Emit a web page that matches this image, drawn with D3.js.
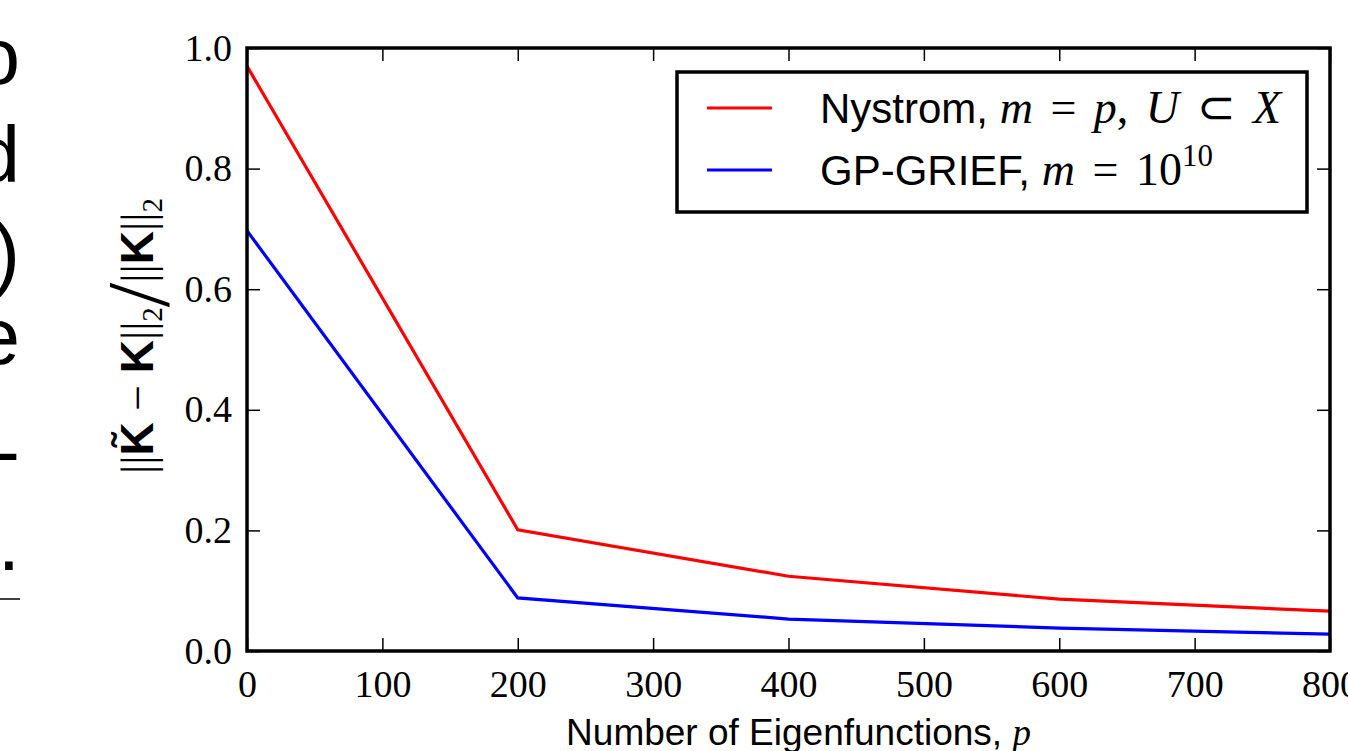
<!DOCTYPE html>
<meta charset="utf-8">
<title>Kernel approximation error</title>
<style>
  body { margin: 0; background: #fff; }
  .tick text { font-family: "Liberation Serif", serif; font-size: 38px; fill: #000; }
  .tick line { stroke: #000; stroke-width: 1.5px; }
  .domain { display: none; }
  .sans { font-family: "Liberation Sans", Arial, sans-serif; }
  .math { font-family: "Liberation Serif", serif; font-style: italic; }
  .rm { font-family: "Liberation Serif", serif; font-style: normal; }
</style>
<svg width="1348" height="751"></svg>
<script src="https://d3js.org/d3.v7.min.js"></script>
<script>
  // values
  var eigenfunctions = [0, 200, 400, 600, 800];
  var nystrom = [0.970, 0.201, 0.124, 0.086, 0.066];
  var gpgrief = [0.697, 0.088, 0.053, 0.038, 0.028];
  var xTicks = [0, 100, 200, 300, 400, 500, 600, 700, 800];
  var yTicks = [0.0, 0.2, 0.4, 0.6, 0.8, 1.0];

  var svg = d3.select("svg"),
    pl = 247, pr = 1330, pt = 48, pb = 651;

  // clipped page text on the left edge
  var side = [["o", 84], ["d", 182], [")", 280], ["e", 364], ["-", 478], [".", 570]];
  svg.selectAll(".side").data(side).enter().append("text")
    .attr("class", "sans side")
    .attr("x", 20).attr("y", function (d) { return d[1]; })
    .attr("text-anchor", "end")
    .style("font-size", "80px")
    .text(function (d) { return d[0]; });
  svg.append("line").attr("x1", 0).attr("x2", 20).attr("y1", 599).attr("y2", 599)
    .attr("stroke", "#000").attr("stroke-width", 1.5);

  var x = d3.scaleLinear().domain([0, 800]).range([pl, pr]);
  var y = d3.scaleLinear().domain([0, 1]).range([pb, pt]);
  var tl = 13;

  svg.append("g").attr("transform", "translate(0," + pb + ")")
    .call(d3.axisBottom(x).tickValues(xTicks).tickFormat(d3.format("d")).tickSizeInner(-tl).tickPadding(tl + 6))
    .selectAll("text").attr("dy", "0.71em");
  svg.append("g").attr("transform", "translate(0," + pt + ")")
    .call(d3.axisTop(x).tickValues(xTicks).tickFormat("").tickSizeInner(-tl));
  svg.append("g").attr("transform", "translate(" + pl + ",0)")
    .call(d3.axisLeft(y).tickValues(yTicks).tickFormat(d3.format(".1f")).tickSizeInner(-tl).tickPadding(tl + 2));
  svg.append("g").attr("transform", "translate(" + pr + ",0)")
    .call(d3.axisRight(y).tickValues(yTicks).tickFormat("").tickSizeInner(-tl));

  var line = d3.line()
    .x(function (d, i) { return x(eigenfunctions[i]); })
    .y(function (d) { return y(d); });

  var plot = svg.append("g");
  plot.append("path").datum(nystrom).attr("d", line)
    .attr("fill", "none").attr("stroke", "#ff0000").attr("stroke-width", 3.2);
  plot.append("path").datum(gpgrief).attr("d", line)
    .attr("fill", "none").attr("stroke", "#0000ff").attr("stroke-width", 3.2);

  svg.append("rect")
    .attr("x", pl).attr("y", pt).attr("width", pr - pl).attr("height", pb - pt)
    .attr("fill", "none").attr("stroke", "#000").attr("stroke-width", 3.5);

  // legend
  var lg = svg.append("g").attr("transform", "translate(677,72)");
  lg.append("rect").attr("width", 630).attr("height", 140)
    .attr("fill", "#fff").attr("stroke", "#000").attr("stroke-width", 3.5);
  var entries = [
    { color: "#ff0000", label: "Nystrom, ", math: [["math", "m"], ["rm", " = "], ["math", "p"], ["rm", ", "], ["math", "U"], ["rm", " ⊂ "], ["math", "X"]] },
    { color: "#0000ff", label: "GP-GRIEF, ", math: [["math", "m"], ["rm", " = 10"]] }
  ];
  var row = lg.selectAll(".row").data(entries).enter().append("g")
    .attr("transform", function (d, i) { return "translate(0," + (36 + i * 62) + ")"; });
  row.append("line").attr("x1", 30).attr("x2", 95).attr("y1", 0).attr("y2", 0)
    .attr("stroke", function (d) { return d.color; }).attr("stroke-width", 3.2);
  var lt = row.append("text").attr("x", 143).attr("y", 15).attr("class", "sans")
    .attr("xml:space", "preserve").style("font-size", "42px");
  lt.append("tspan").text(function (d) { return d.label; });
  lt.each(function (d) {
    var t = d3.select(this);
    d.math.forEach(function (m) {
      t.append("tspan").attr("class", m[0]).style("font-size", "46px")
        .style("word-spacing", "6px").text(m[1]);
    });
  });
  lt.filter(function (d, i) { return i === 1; }).append("tspan")
    .attr("class", "rm").style("font-size", "31px")
    .attr("dy", -19).text("10");

  // x label
  var xl = svg.append("text").attr("class", "sans").attr("x", (pl + pr) / 2 + 10).attr("y", 745)
    .attr("text-anchor", "middle").style("font-size", "37px");
  xl.append("tspan").text("Number of Eigenfunctions, ");
  xl.append("tspan").attr("class", "math").text("p");

  // y label
  var yl = svg.append("text").attr("transform", "translate(153,336) rotate(-90)")
    .attr("text-anchor", "middle").style("font-size", "46px")
    .attr("font-family", "Liberation Serif, serif");
  yl.append("tspan").text("||");
  yl.append("tspan").attr("class", "sans").style("font-weight", "bold").text("K\u0303");
  yl.append("tspan").text(" − ");
  yl.append("tspan").attr("class", "sans").style("font-weight", "bold").text("K");
  yl.append("tspan").text("||");
  yl.append("tspan").attr("dy", 9).style("font-size", "29px").text("2");
  yl.append("tspan").attr("dy", 6).style("font-size", "88px").text("/");
  yl.append("tspan").attr("dy", -15).text("||");
  yl.append("tspan").attr("class", "sans").style("font-weight", "bold").text("K");
  yl.append("tspan").text("||");
  yl.append("tspan").attr("dy", 9).style("font-size", "29px").text("2");
</script>
